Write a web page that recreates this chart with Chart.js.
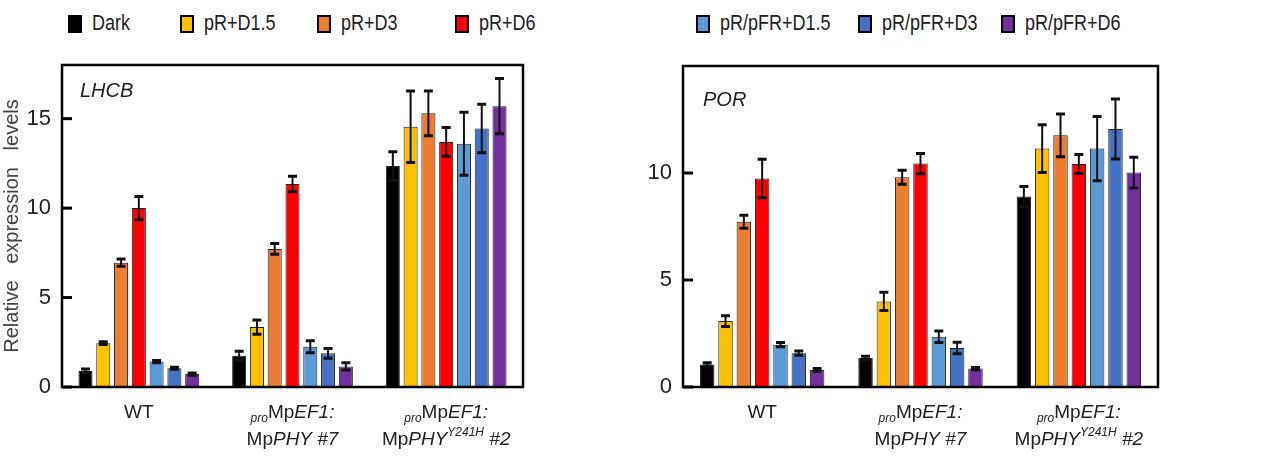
<!DOCTYPE html>
<html>
<head>
<meta charset="utf-8">
<script src="https://cdn.jsdelivr.net/npm/chart.js@4"></script>
<style>
    body { margin: 0; background: #fff; }
    #wrap { position: relative; width: 1263px; height: 466px; overflow: hidden; font-family: 'Liberation Sans', Arial, sans-serif; }
    #wrap canvas { position: absolute; top: 0; }
    .leg { position: absolute; top: 13px; display: flex; align-items: center; font-size: 18px; color: #222; white-space: nowrap; }
    .leg i { display: inline-block; width: 10px; height: 14px; border: 2px solid #000; margin-right: 10px; }
    .leg span { display: inline-block; transform: scaleY(1.2); }
</style>
</head>
<body>
<div id="wrap">
    <div id="legend"></div>
    <canvas id="lhcb" width="600" height="466" style="left:0"></canvas>
    <canvas id="por" width="663" height="466" style="left:600px"></canvas>
</div>
<script>
// categories (x labels, '|' = line break, simple markup for sub/sup/italic)
const categories = [
    'WT',
    '<sub>pro</sub>Mp<i>EF1:</i>|Mp<i>PHY #7</i>',
    '<sub>pro</sub>Mp<i>EF1:</i>|Mp<i>PHY</i><sup>Y241H</sup> <i>#2</i>'
];
const seriesNames = ['Dark', 'pR+D1.5', 'pR+D3', 'pR+D6', 'pR/pFR+D1.5', 'pR/pFR+D3', 'pR/pFR+D6'];
const seriesColors = ['#000000', '#FFC000', '#ED7D31', '#FF0000', '#5B9BD5', '#4472C4', '#7030A0'];

// LHCB (one row per series, one value per category)
const lhcbMeans = [
    [0.9, 1.75, 12.35],
    [2.45, 3.35, 14.55],
    [6.95, 7.72, 15.3],
    [10.0, 11.35, 13.7],
    [1.42, 2.25, 13.6],
    [1.05, 1.88, 14.45],
    [0.72, 1.15, 15.7]
];
const lhcbErrors = [
    [0.1, 0.25, 0.8],
    [0.08, 0.4, 2.0],
    [0.2, 0.3, 1.25],
    [0.65, 0.43, 0.8],
    [0.06, 0.33, 1.76],
    [0.06, 0.27, 1.35],
    [0.06, 0.2, 1.55]
];

// POR
const porMeans = [
    [1.05, 1.36, 8.9],
    [3.08, 4.0, 11.14],
    [7.72, 9.8, 11.76],
    [9.74, 10.44, 10.42],
    [1.98, 2.35, 11.14],
    [1.58, 1.82, 12.06],
    [0.8, 0.86, 10.02]
];
const porErrors = [
    [0.08, 0.08, 0.47],
    [0.25, 0.43, 1.12],
    [0.3, 0.33, 1.0],
    [0.9, 0.47, 0.44],
    [0.1, 0.27, 1.5],
    [0.1, 0.27, 1.4],
    [0.06, 0.05, 0.72]
];

const lhcbTicks = [0, 5, 10, 15];
const porTicks = [0, 5, 10];

const FONT = "'Liberation Sans', Arial, sans-serif";

// legend (html)
const legendLeft = [68, 180, 317, 455, 696, 858, 1001];
const legend = document.getElementById('legend');
seriesNames.forEach((name, i) => {
    const d = document.createElement('div');
    d.className = 'leg';
    d.style.left = legendLeft[i] + 'px';
    d.innerHTML = '<i style="background:' + seriesColors[i] + '"></i><span>' + name + '</span>';
    legend.appendChild(d);
});

// draw one label line with sub / sup / italic parts, centered at cx
function drawRichLine(ctx, line, cx, cy) {
    const parts = line.split(/(<sub>.*?<\/sub>|<sup>.*?<\/sup>|<i>.*?<\/i>)/).filter(p => p);
    const runs = parts.map(p => {
        let m;
        if ((m = p.match(/^<sub>(.*)<\/sub>$/))) return { t: m[1], f: 'italic 12px ' + FONT, dy: 6 };
        if ((m = p.match(/^<sup>(.*)<\/sup>$/))) return { t: m[1], f: 'italic 12px ' + FONT, dy: -7 };
        if ((m = p.match(/^<i>(.*)<\/i>$/))) return { t: m[1], f: 'italic 19px ' + FONT, dy: 0 };
        return { t: p, f: '19px ' + FONT, dy: 0 };
    });
    let total = 0;
    runs.forEach(r => { ctx.font = r.f; r.w = ctx.measureText(r.t).width; total += r.w; });
    let x = cx - total / 2;
    runs.forEach(r => {
        ctx.font = r.f;
        ctx.fillText(r.t, x, cy + r.dy);
        x += r.w;
    });
}

const panelPlugin = {
    id: 'panel',
    afterDatasetsDraw(chart, args, opts) {
        const ctx = chart.ctx;
        const area = chart.chartArea;
        const ys = chart.scales.y;
        const xs = chart.scales.x;
        ctx.save();
        ctx.strokeStyle = '#111';
        // error bars
        chart.data.datasets.forEach((ds, i) => {
            const meta = chart.getDatasetMeta(i);
            meta.data.forEach((bar, j) => {
                const v = ds.data[j], e = ds.errors[j];
                const top = ys.getPixelForValue(v + e);
                const bot = ys.getPixelForValue(v - e);
                ctx.lineWidth = 2;
                ctx.beginPath();
                ctx.moveTo(bar.x, top);
                ctx.lineTo(bar.x, bot);
                ctx.stroke();
                ctx.lineWidth = 3;
                ctx.beginPath();
                ctx.moveTo(bar.x - 4.5, top);
                ctx.lineTo(bar.x + 4.5, top);
                ctx.moveTo(bar.x - 4.5, bot);
                ctx.lineTo(bar.x + 4.5, bot);
                ctx.stroke();
            });
        });
        // frame
        ctx.strokeStyle = '#000';
        ctx.lineWidth = 2.5;
        ctx.strokeRect(area.left, area.top, area.right - area.left, area.bottom - area.top);
        // inward ticks
        ctx.lineWidth = 3;
        ys.ticks.forEach(t => {
            const py = ys.getPixelForValue(t.value);
            ctx.beginPath();
            ctx.moveTo(area.left, py);
            ctx.lineTo(area.left + 10, py);
            ctx.stroke();
        });
        // gene name
        ctx.fillStyle = '#222';
        ctx.textBaseline = 'middle';
        ctx.textAlign = 'left';
        ctx.font = 'italic 20px ' + FONT;
        ctx.fillText(opts.title, area.left + opts.dx, area.top + opts.dy);
        // category labels
        chart.data.labels.forEach((lab, i) => {
            const cx = xs.getPixelForValue(i);
            lab.split('|').forEach((line, k) => {
                drawRichLine(ctx, line, cx, area.bottom + 26 + k * 27);
            });
        });
        ctx.restore();
    }
};

function makePanel(id, means, errors, yMax, tickVals, pad, title, yTitle) {
    const datasets = seriesNames.map((name, i) => ({
        label: name,
        data: means[i],
        errors: errors[i],
        backgroundColor: seriesColors[i],
        borderColor: '#222',
        borderWidth: 1,
        borderSkipped: 'bottom',
        categoryPercentage: 0.81,
        barPercentage: 0.79
    }));
    return new Chart(document.getElementById(id), {
        type: 'bar',
        data: { labels: categories, datasets: datasets },
        plugins: [panelPlugin],
        options: {
            responsive: false,
            animation: false,
            devicePixelRatio: 1,
            layout: { padding: { top: pad.top, right: pad.right, bottom: pad.bottom, left: 0 } },
            plugins: {
                legend: { display: false },
                tooltip: { enabled: false },
                panel: title
            },
            scales: {
                x: { display: false },
                y: {
                    min: 0,
                    max: yMax,
                    afterBuildTicks: s => { s.ticks = tickVals.map(v => ({ value: v })); },
                    afterFit: s => { s.width = pad.left; },
                    grid: { display: false },
                    border: { display: false },
                    ticks: { padding: 3, color: '#222', font: { family: FONT, size: 22 } },
                    title: {
                        display: !!yTitle,
                        text: yTitle || '',
                        color: '#444',
                        padding: { top: 0, bottom: 0 },
                        font: { family: FONT, size: 20 }
                    }
                }
            }
        }
    });
}

makePanel('lhcb', lhcbMeans, lhcbErrors, 18, lhcbTicks,
    { top: 65, right: 77, bottom: 79, left: 62 },
    { title: 'LHCB', dx: 18, dy: 26 },
    'Relative   expression   levels');

makePanel('por', porMeans, porErrors, 15, porTicks,
    { top: 66, right: 105, bottom: 79, left: 83 },
    { title: 'POR', dx: 20, dy: 34 },
    null);
</script>
</body>
</html>
